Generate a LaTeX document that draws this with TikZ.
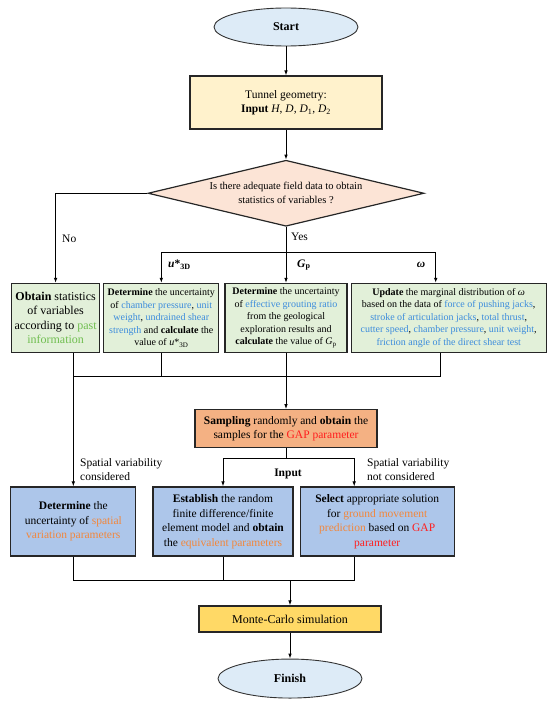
\documentclass[tikz,border=0pt]{standalone}
\usepackage{fontspec}
\setmainfont{Liberation Serif}
\usepackage{xcolor}
\usepackage{tikz}
\usetikzlibrary{shapes.geometric,arrows.meta,positioning}
\definecolor{termblue}{RGB}{221,235,247}
\definecolor{geomyellow}{RGB}{255,242,204}
\definecolor{checkpeach}{RGB}{252,228,214}
\definecolor{statgreen}{RGB}{226,240,217}
\definecolor{sampleorange}{RGB}{244,177,131}
\definecolor{modelblue}{RGB}{173,198,234}
\definecolor{mcyellow}{RGB}{255,217,102}
\definecolor{keyblue}{RGB}{60,140,220}
\definecolor{keygreen}{RGB}{112,190,80}
\definecolor{keyorange}{RGB}{242,135,60}
\definecolor{keyred}{RGB}{255,30,30}
\newcommand{\hlblue}[1]{\textcolor{keyblue}{#1}}
\newcommand{\hlgreen}[1]{\textcolor{keygreen}{#1}}
\newcommand{\hlorange}[1]{\textcolor{keyorange}{#1}}
\newcommand{\hlred}[1]{\textcolor{keyred}{#1}}
\newcommand{\ustar}{\textit{u}*\textsubscript{3D}}

\begin{document}
\begin{tikzpicture}[
        x=1pt, y=-1pt,
        font=\fontsize{11.5}{14.5}\selectfont,
        terminal/.style={ellipse, draw=black!80, line width=0.9pt, fill=termblue, minimum width=144pt, minimum height=38pt, font=\fontsize{12}{14}\selectfont\bfseries},
        procbox/.style={rectangle, draw=black!85, line width=1.2pt, fill=#1, inner sep=2pt, align=center},
        smalltext/.style={font=\fontsize{10}{12.5}\selectfont},
        lbl/.style={inner sep=0pt, align=left},
        arrow/.style={-{Latex[length=5pt,width=3.6pt]}, line width=0.9pt},
        link/.style={line width=0.9pt}
    ]
        \useasboundingbox (0,0) rectangle (550,704);

        \node[terminal] (start) at (286,27) {Start};
        \node[procbox=geomyellow, minimum width=192pt, minimum height=53pt, below=29pt of start] (tunnel) {Tunnel geometry:\\\textbf{Input} \textit{H}, \textit{D}, \textit{D}\textsubscript{1}, \textit{D}\textsubscript{2}};
        \node[diamond, draw=black!85, line width=1.2pt, fill=checkpeach, aspect=4.2, inner sep=0pt, minimum width=276pt, minimum height=66pt, align=center, font=\fontsize{10.5}{14}\selectfont, below=30pt of tunnel] (check) {Is there adequate field data to obtain\\statistics of variables ?};

        % statistics row
        \node[procbox=statgreen, smalltext, minimum width=122pt, minimum height=69pt, below=56pt of check] (gpbox) {\textbf{Determine} the uncertainty\\of \hlblue{effective grouting ratio}\\from the geological\\exploration results and\\\textbf{calculate} the value of \textit{G}\textsubscript{p}};
        \node[procbox=statgreen, smalltext, minimum width=115pt, minimum height=69pt, left=5pt of gpbox] (uthree) {\textbf{Determine} the uncertainty\\of \hlblue{chamber pressure}, \hlblue{unit}\\\hlblue{weight}, \hlblue{undrained shear}\\\hlblue{strength} and \textbf{calculate} the\\value of \ustar};
        \node[procbox=statgreen, font=\fontsize{12}{14.5}\selectfont, minimum width=88pt, minimum height=69pt, left=3pt of uthree] (obtain) {\textbf{Obtain} statistics\\of variables\\according to \hlgreen{past}\\\hlgreen{information}};
        \node[procbox=statgreen, smalltext, minimum width=195pt, minimum height=69pt, right=3pt of gpbox] (omega) {\textbf{Update} the marginal distribution of \textit{ω}\\based on the data of \hlblue{force of pushing jacks},\\\hlblue{stroke of articulation jacks}, \hlblue{total thrust},\\\hlblue{cutter speed}, \hlblue{chamber pressure}, \hlblue{unit weight},\\\hlblue{friction angle of the direct shear test}};

        \node[procbox=sampleorange, minimum width=182pt, minimum height=38pt, below=56pt of gpbox] (sampling) {\textbf{Sampling} randomly and \textbf{obtain} the\\samples for the \hlred{GAP parameter}};

        % model row
        \node[procbox=modelblue, minimum width=140pt, minimum height=69pt] (establish) at (223,521.5) {\textbf{Establish} the random\\finite difference/finite\\element model and \textbf{obtain}\\the \hlorange{equivalent parameters}};
        \node[procbox=modelblue, minimum width=125pt, minimum height=69pt, left=16pt of establish] (determine) {\textbf{Determine} the\\uncertainty of \hlorange{spatial}\\\hlorange{variation parameters}};
        \node[procbox=modelblue, minimum width=154pt, minimum height=69pt, right=6pt of establish] (select) {\textbf{Select} appropriate solution\\for \hlorange{ground movement}\\\hlorange{prediction} based on \hlred{GAP}\\\hlred{parameter}};

        \node[procbox=mcyellow, font=\fontsize{12}{14}\selectfont, minimum width=182pt, minimum height=26pt] (mc) at (290,619) {Monte-Carlo simulation};
        \node[terminal, minimum height=39pt, below=26pt of mc] (finish) {Finish};

        % labels
        \node[lbl, anchor=west] (nolbl) at (62,239) {No};
        \node[lbl, anchor=west] (yeslbl) at (291,237) {Yes};
        \node[lbl, anchor=west, font=\fontsize{11.5}{14}\selectfont\bfseries] (ulbl) at (168,265) {\ustar};
        \node[lbl, anchor=west, font=\fontsize{11.5}{14}\selectfont\bfseries] (gplbl) at (297,265) {\textit{G}\textsubscript{p}};
        \node[lbl, font=\fontsize{11.5}{14}\selectfont\bfseries] (omlbl) at (421,265) {\textit{ω}};
        \node[lbl, font=\fontsize{11.5}{14}\selectfont\bfseries] (inlbl) at (288,474) {Input};
        \node[lbl, anchor=west] (svlbl) at (80,469.5) {Spatial variability\\considered};
        \node[lbl, anchor=west] (nsvlbl) at (367,469.5) {Spatial variability\\not considered};

        % junctions
        \coordinate (yesj) at (check.south |- 0,252);
        \coordinate (omin) at ([xshift=-13pt]omega.north);
        \coordinate (omout) at ([xshift=-8pt]omega.south);
        \coordinate (mergel) at (determine.north |- 0,376);
        \coordinate (splitj) at (sampling.south |- 0,458);
        \coordinate (selin) at ([xshift=-23pt]select.north);
        \coordinate (selout) at ([xshift=-23pt]select.south);
        \coordinate (lowr) at (selout |- 0,580);

        \draw[arrow] (start) -- (tunnel);
        \draw[arrow] (tunnel) -- (check);
        \draw[arrow] (check.west) -| (obtain.north);
        \draw[arrow] (check) -- (gpbox);
        \draw[arrow] (yesj) -| (uthree.north);
        \draw[arrow] (yesj) -| (omin);

        \draw[link] (obtain.south -| mergel) -- (mergel) -- (omout |- mergel) -- (omout);
        \draw[link] (uthree.south) -- (uthree.south |- mergel);
        \draw[arrow] (gpbox) -- (sampling);
        \draw[arrow] (mergel) -- (determine);

        \draw[link] (sampling) -- (splitj);
        \draw[arrow] (splitj) -| (establish.north);
        \draw[arrow] (splitj) -| (selin);

        \draw[link] (determine.south) |- (lowr) -- (selout);
        \draw[link] (establish.south) -- (establish.south |- lowr);
        \draw[arrow] (mc.north |- lowr) -- (mc);
        \draw[arrow] (mc) -- (finish);
    \end{tikzpicture}
\end{document}
